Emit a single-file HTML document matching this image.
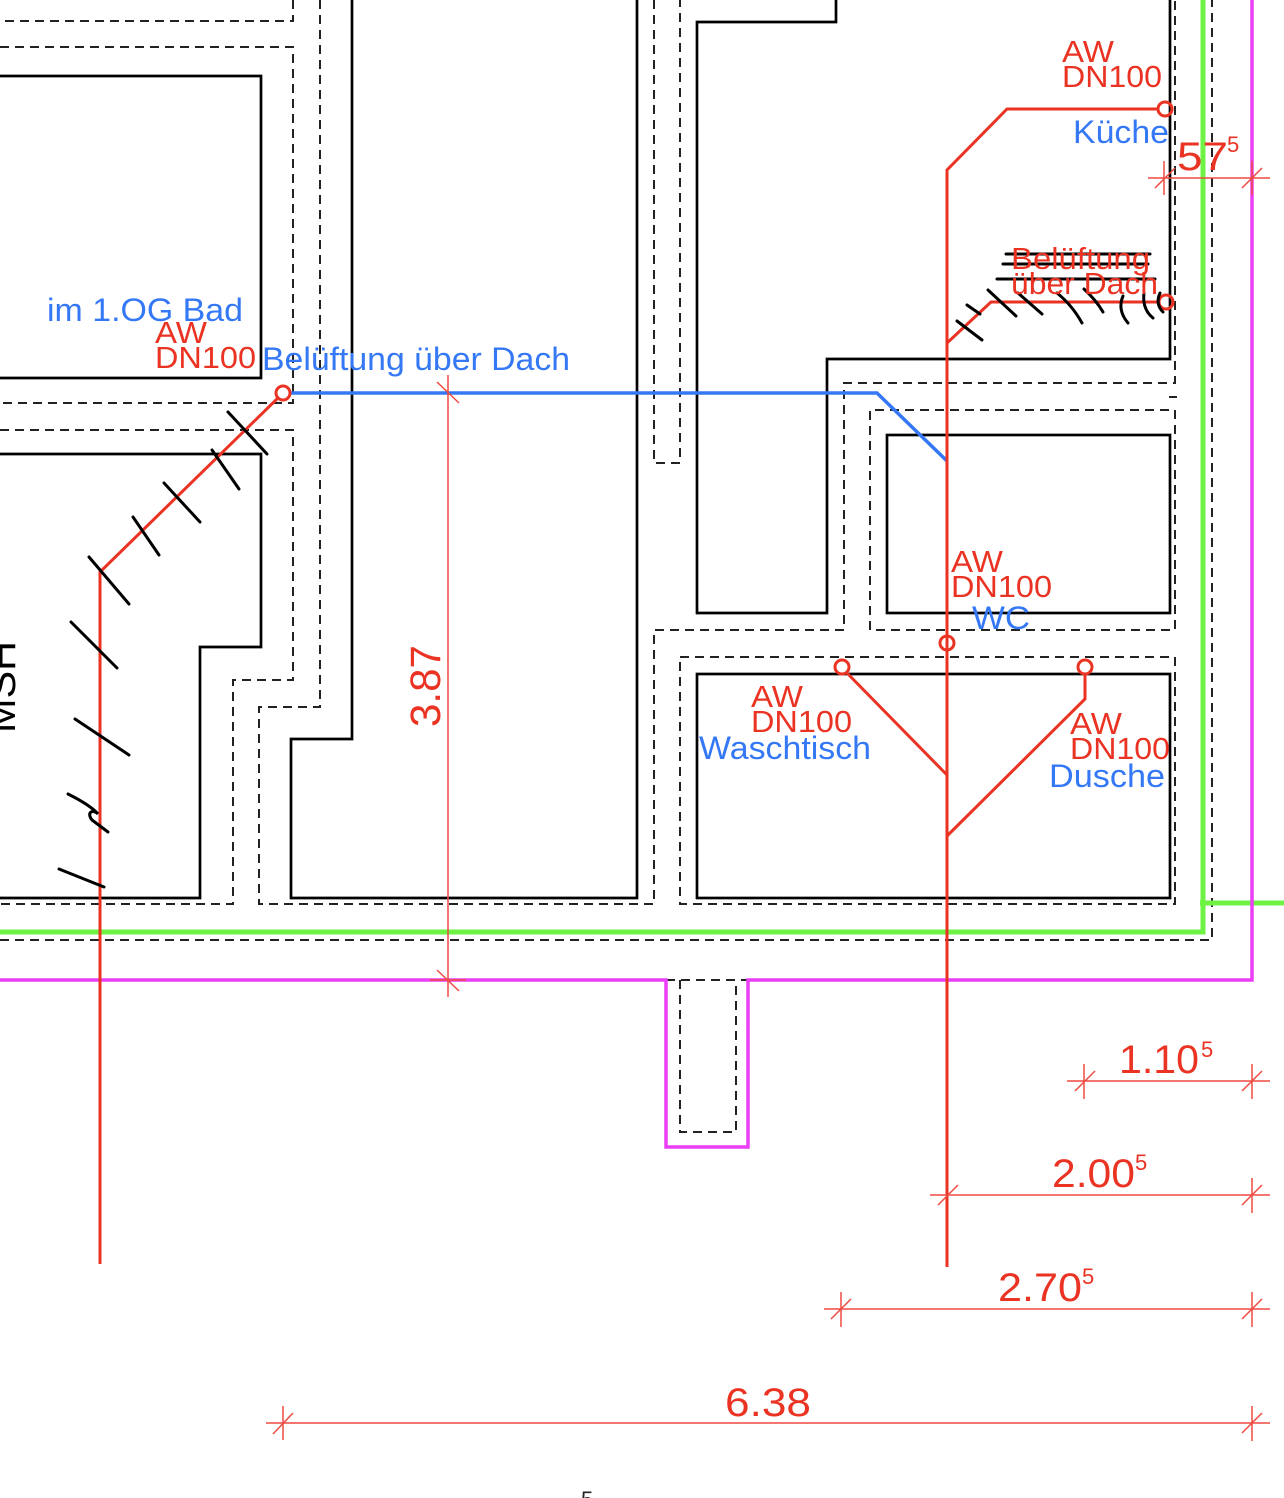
<!DOCTYPE html>
<html>
<head>
<meta charset="utf-8">
<style>
  html,body{margin:0;padding:0;background:#fff;}
  svg{display:block;}
  text{font-family:"Liberation Sans",Arial,sans-serif;}
</style>
</head>
<body>
<svg width="1284" height="1498" viewBox="0 0 1284 1498" xmlns="http://www.w3.org/2000/svg">
  <rect width="1284" height="1498" fill="#fff"/>

  <!-- dashed black lines -->
  <g fill="none" stroke="#222" stroke-width="2" stroke-dasharray="9 6">
    <polyline points="293,0 293,21 0,21"/>
    <polyline points="0,47 293,47 293,403 0,403"/>
    <polyline points="0,430 293,430 293,680 233,680 233,904 0,904"/>
    <polyline points="320,0 320,707 259,707 259,904 654,904 654,630 844,630 844,383 1175,383 1175,0"/>
    <polyline points="654,0 654,463 680,463 680,0"/>
    <polygon points="870,630 870,410 1175,410 1175,630"/>
    <polygon points="680,657 1175,657 1175,904 680,904"/>
    <polyline points="0,940 1212,940 1212,0"/>
    <polyline points="666,980 748,980"/>
    <polyline points="680,980 680,1132 736,1132 736,980"/>
  </g>
  <line x1="1169" y1="397" x2="1177" y2="397" stroke="#222" stroke-width="2"/>

  <!-- solid black walls -->
  <g fill="none" stroke="#000" stroke-width="2.7">
    <polyline points="0,76 261,76 261,378 0,378"/>
    <polyline points="0,454 261,454 261,647 200,647 200,898 0,898"/>
    <polyline points="352,0 352,739 291,739 291,898 637,898 637,0"/>
    <polyline points="836,0 836,22 697,22 697,613 827,613 827,359 1170,359 1170,0"/>
    <rect x="887" y="435" width="283" height="178"/>
    <rect x="697" y="674" width="473" height="224"/>
  </g>

  <!-- green line -->
  <g fill="none" stroke="#6ef244" stroke-width="5">
    <polyline points="0,932 1203,932 1203,0"/>
    <line x1="1200" y1="903" x2="1284" y2="903"/>
  </g>

  <!-- magenta line -->
  <polyline fill="none" stroke="#ea3ff7" stroke-width="3.5" points="0,980 666,980 666,1147 748,1147 748,980 1252,980 1252,0"/>

  <!-- blue vent line -->
  <polyline fill="none" stroke="#3478f6" stroke-width="3.5" points="291,393 877,393 947,461"/>

  <!-- red pipes -->
  <g fill="none" stroke="#ea3323" stroke-width="3">
    <polyline points="100,1264 100,572 279,397"/>
    <circle cx="283" cy="393" r="7"/>
    <polyline points="947,1267 947,170 1007,109 1158,109"/>
    <circle cx="1165" cy="109" r="7"/>
    <polyline points="947,343 991,302 1159,302"/>
    <circle cx="1166" cy="302" r="7"/>
    <circle cx="947" cy="643" r="7"/>
    <line x1="846" y1="672" x2="947" y2="775"/>
    <circle cx="842" cy="667" r="7"/>
    <polyline points="1085,674 1085,699 947,836"/>
    <circle cx="1085" cy="667" r="7"/>
  </g>

  <!-- dimension lines -->
  <g fill="none" stroke="#ef4a40" stroke-width="1.5">
    <line x1="448" y1="375" x2="448" y2="997"/>
    <line x1="437" y1="382" x2="459" y2="403"/>
    <line x1="430" y1="980" x2="466" y2="980"/>
    <line x1="437" y1="970" x2="459" y2="991"/>

    <line x1="1148" y1="178" x2="1270" y2="178"/>
    <line x1="1164" y1="161" x2="1164" y2="195"/>
    <line x1="1155" y1="188" x2="1175" y2="168"/>
    <line x1="1252" y1="161" x2="1252" y2="195"/>
    <line x1="1242" y1="188" x2="1262" y2="168"/>

    <line x1="1067" y1="1081" x2="1270" y2="1081"/>
    <line x1="1084" y1="1064" x2="1084" y2="1099"/>
    <line x1="1075" y1="1091" x2="1095" y2="1071"/>
    <line x1="1252" y1="1064" x2="1252" y2="1099"/>
    <line x1="1242" y1="1091" x2="1262" y2="1071"/>

    <line x1="930" y1="1195" x2="1270" y2="1195"/>
    <line x1="938" y1="1205" x2="958" y2="1185"/>
    <line x1="1252" y1="1178" x2="1252" y2="1213"/>
    <line x1="1242" y1="1205" x2="1262" y2="1185"/>

    <line x1="824" y1="1309" x2="1270" y2="1309"/>
    <line x1="841" y1="1292" x2="841" y2="1327"/>
    <line x1="831" y1="1319" x2="851" y2="1299"/>
    <line x1="1252" y1="1292" x2="1252" y2="1327"/>
    <line x1="1242" y1="1319" x2="1262" y2="1299"/>

    <line x1="266" y1="1423" x2="1270" y2="1423"/>
    <line x1="283" y1="1406" x2="283" y2="1440"/>
    <line x1="273" y1="1434" x2="293" y2="1413"/>
    <line x1="1252" y1="1406" x2="1252" y2="1441"/>
    <line x1="1242" y1="1433" x2="1262" y2="1413"/>
  </g>

  <!-- hand-drawn black marks -->
  <g fill="none" stroke="#000" stroke-width="3" stroke-linecap="round">
    <line x1="228" y1="412" x2="267" y2="454"/>
    <line x1="212" y1="450" x2="239" y2="489"/>
    <line x1="164" y1="483" x2="200" y2="522"/>
    <line x1="133" y1="517" x2="159" y2="555"/>
    <line x1="89" y1="557" x2="129" y2="604"/>
    <line x1="71" y1="622" x2="117" y2="668"/>
    <line x1="75" y1="719" x2="129" y2="755"/>
    <path d="M68,794 C80,800 92,807 98,814 C93,809 86,812 92,820 L108,832"/>
    <line x1="59" y1="869" x2="104" y2="887"/>

    <line x1="957" y1="321" x2="982" y2="340"/>
    <line x1="967" y1="305" x2="980" y2="314"/>
    <line x1="988" y1="290" x2="1016" y2="316"/>
    <line x1="1018" y1="293" x2="1042" y2="314"/>
    <path d="M1057,293 Q1072,305 1082,323"/>
    <path d="M1084,289 Q1096,300 1103,312"/>
    <path d="M1123,296 Q1117,310 1128,323"/>
    <path d="M1144,293 Q1142,309 1153,318"/>
    <path d="M1160,293 Q1155,304 1163,312"/>

    <line x1="1006" y1="254" x2="1150" y2="254"/>
    <line x1="1003" y1="264" x2="1148" y2="264"/>
    <line x1="997" y1="279" x2="1155" y2="279"/>
  </g>

  <!-- blue labels -->
  <g fill="#3478f6" font-size="32">
    <text x="47" y="321" textLength="196" lengthAdjust="spacingAndGlyphs">im 1.OG Bad</text>
    <text x="262" y="370" textLength="308" lengthAdjust="spacingAndGlyphs">Belüftung über Dach</text>
    <text x="1073" y="143" textLength="96" lengthAdjust="spacingAndGlyphs">Küche</text>
    <text x="972" y="629" textLength="58" lengthAdjust="spacingAndGlyphs">WC</text>
    <text x="699" y="759" textLength="172" lengthAdjust="spacingAndGlyphs">Waschtisch</text>
    <text x="1049" y="787" textLength="116" lengthAdjust="spacingAndGlyphs">Dusche</text>
  </g>

  <!-- red labels -->
  <g fill="#ea3323" font-size="31">
    <text x="155" y="343" textLength="52" lengthAdjust="spacingAndGlyphs">AW</text>
    <text x="155" y="368" textLength="101" lengthAdjust="spacingAndGlyphs">DN100</text>
    <text x="1062" y="62" textLength="52" lengthAdjust="spacingAndGlyphs">AW</text>
    <text x="1062" y="87" textLength="100" lengthAdjust="spacingAndGlyphs">DN100</text>
    <text x="951" y="572" textLength="52" lengthAdjust="spacingAndGlyphs">AW</text>
    <text x="951" y="597" textLength="101" lengthAdjust="spacingAndGlyphs">DN100</text>
    <text x="751" y="707" textLength="52" lengthAdjust="spacingAndGlyphs">AW</text>
    <text x="751" y="732" textLength="101" lengthAdjust="spacingAndGlyphs">DN100</text>
    <text x="1070" y="734" textLength="52" lengthAdjust="spacingAndGlyphs">AW</text>
    <text x="1070" y="759" textLength="100" lengthAdjust="spacingAndGlyphs">DN100</text>
    <text x="1011" y="269" textLength="139" lengthAdjust="spacingAndGlyphs">Belüftung</text>
    <text x="1011" y="294" textLength="147" lengthAdjust="spacingAndGlyphs">über Dach</text>
  </g>

  <!-- dimension texts -->
  <g fill="#ea3323">
    <text x="1177" y="170" font-size="40" textLength="51" lengthAdjust="spacingAndGlyphs">57</text>
    <text x="1227" y="152" font-size="22">5</text>
    <text x="1119" y="1073" font-size="40" textLength="80" lengthAdjust="spacingAndGlyphs">1.10</text>
    <text x="1201" y="1057" font-size="22">5</text>
    <text x="1052" y="1187" font-size="40" textLength="83" lengthAdjust="spacingAndGlyphs">2.00</text>
    <text x="1135" y="1170" font-size="22">5</text>
    <text x="998" y="1301" font-size="40" textLength="84" lengthAdjust="spacingAndGlyphs">2.70</text>
    <text x="1082" y="1284" font-size="22">5</text>
    <text x="725" y="1416" font-size="40" textLength="86" lengthAdjust="spacingAndGlyphs">6.38</text>
    <text transform="translate(440,727) rotate(-90)" x="0" y="0" font-size="43" textLength="82" lengthAdjust="spacingAndGlyphs">3.87</text>
  </g>

  <!-- MSH rotated at left edge -->
  <text transform="translate(15,733) rotate(-90)" x="0" y="0" font-size="40" fill="#000" textLength="92" lengthAdjust="spacingAndGlyphs">MSH</text>

  <!-- partially visible text at bottom -->
  <text x="503" y="1528" font-size="40" fill="#ccc">2.00</text>
  <text x="581" y="1507" font-size="22" fill="#222">5</text>
</svg>
</body>
</html>
